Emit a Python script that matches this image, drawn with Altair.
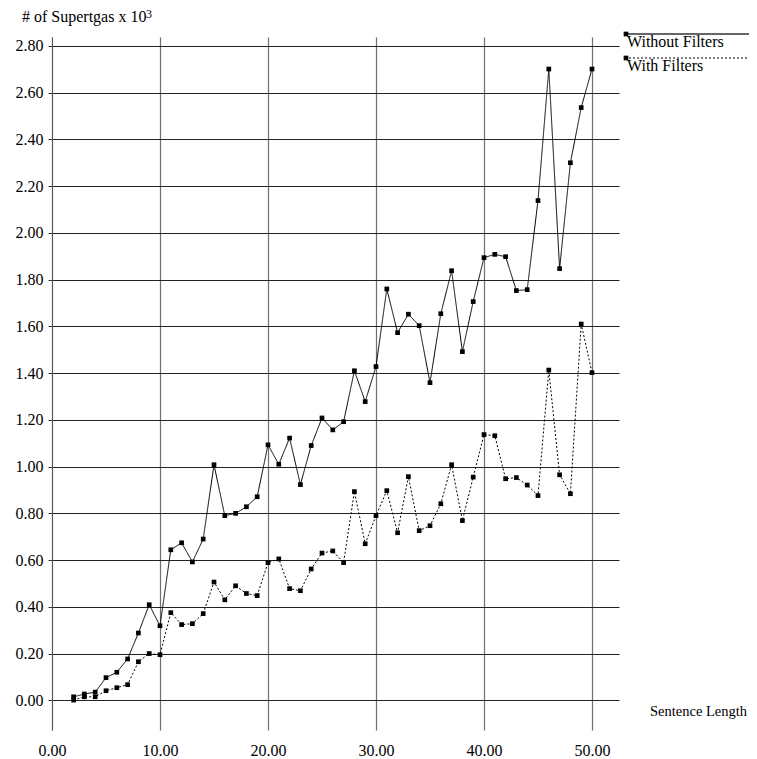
import altair as alt
import pandas as pd

lengths = list(range(2, 51))
without_filters = [0.015, 0.027, 0.035, 0.097, 0.120, 0.177, 0.288, 0.409, 0.319,
                   0.644, 0.674, 0.592, 0.690, 1.008, 0.790, 0.800, 0.828, 0.871,
                   1.093, 1.010, 1.122, 0.923, 1.090, 1.208, 1.157, 1.192, 1.410,
                   1.278, 1.428, 1.760, 1.573, 1.652, 1.603, 1.359, 1.654, 1.838,
                   1.492, 1.706, 1.894, 1.908, 1.898, 1.753, 1.757, 2.138, 2.701,
                   1.847, 2.300, 2.536, 2.701]
with_filters = [0.001, 0.015, 0.015, 0.041, 0.054, 0.067, 0.165, 0.200, 0.195,
                0.375, 0.324, 0.328, 0.371, 0.506, 0.430, 0.490, 0.457, 0.448,
                0.589, 0.605, 0.478, 0.469, 0.562, 0.630, 0.639, 0.589, 0.893,
                0.670, 0.790, 0.897, 0.717, 0.957, 0.726, 0.747, 0.841, 1.008,
                0.769, 0.955, 1.137, 1.132, 0.948, 0.953, 0.921, 0.876, 1.413,
                0.965, 0.884, 1.610, 1.402]
series_names = ["Without Filters", "With Filters"]
x_ticks = [0, 10, 20, 30, 40, 50]
y_ticks = [round(0.2 * i, 2) for i in range(15)]

df = pd.DataFrame({
    "len": lengths * 2,
    "val": without_filters + with_filters,
    "series": [series_names[0]] * len(lengths) + [series_names[1]] * len(lengths),
})

FONT = "Liberation Serif"

xs = alt.Scale(domain=[0, 52.5], nice=False, zero=False)
ys = alt.Scale(domain=[-0.127, 2.838], nice=False, zero=False)

x_enc = alt.X("len:Q", scale=xs, axis=alt.Axis(
    values=x_ticks, format=".2f", title=None, grid=True, gridColor="#707070",
    gridWidth=1.2, domain=False, ticks=False, labelPadding=12, labelFlush=False,
    labelFont=FONT, labelFontSize=16, labelColor="black"))
y_enc = alt.Y("val:Q", scale=ys, axis=alt.Axis(
    values=y_ticks, format=".2f", title=None, grid=True, gridColor="#222222",
    gridWidth=1, domain=True, domainColor="#555555", ticks=True, tickSize=4,
    tickColor="#333333", labelPadding=5, labelFont=FONT, labelFontSize=16,
    labelColor="black", labelFlush=False))

dash = alt.StrokeDash("series:N", scale=alt.Scale(domain=series_names,
                      range=[[1, 0], [2, 2]]), legend=None)

lines = alt.Chart(df).mark_line(color="black", strokeWidth=1).encode(
    x=x_enc, y=y_enc, strokeDash=dash, detail="series:N")
points = alt.Chart(df).mark_square(color="black", size=22, opacity=1).encode(
    x="len:Q", y="val:Q")

one = pd.DataFrame({"a": [0]})

def txt(s, x, y, size=16, font=FONT):
    return alt.Chart(pd.DataFrame({"t": [s]})).mark_text(
        font=font, fontSize=size, align="left", baseline="alphabetic",
        color="black").encode(text="t:N", x=alt.value(x), y=alt.value(y))

leg_solid = alt.Chart(one).mark_rule(color="#333333", strokeWidth=1.5).encode(
    x=alt.value(573), x2=alt.value(697), y=alt.value(-3))
leg_dot = alt.Chart(one).mark_rule(color="black", strokeWidth=1, strokeDash=[2, 2]).encode(
    x=alt.value(573), x2=alt.value(697), y=alt.value(21))
leg_sq1 = alt.Chart(one).mark_square(color="black", size=22, opacity=1).encode(
    x=alt.value(574), y=alt.value(-3))
leg_sq2 = alt.Chart(one).mark_square(color="black", size=22, opacity=1).encode(
    x=alt.value(574), y=alt.value(21))

chart = alt.layer(
    lines, points,
    leg_solid, leg_dot, leg_sq1, leg_sq2,
    txt(series_names[0], 575, 10, 16),
    txt(series_names[1], 575, 34, 16),
    txt("# of Supertgas x 10", -30, -15, 16),
    txt("3", 94, -19, 12),
    txt("Sentence Length", 598, 679, 14.5),
).properties(
    width=567, height=693,
    autosize=alt.AutoSizeParams(type="none"),
    padding={"left": 44, "top": 29, "right": 130, "bottom": 28},
).configure_view(stroke=None)

chart.save("out.html", embed_options={"renderer": "svg", "actions": False})
